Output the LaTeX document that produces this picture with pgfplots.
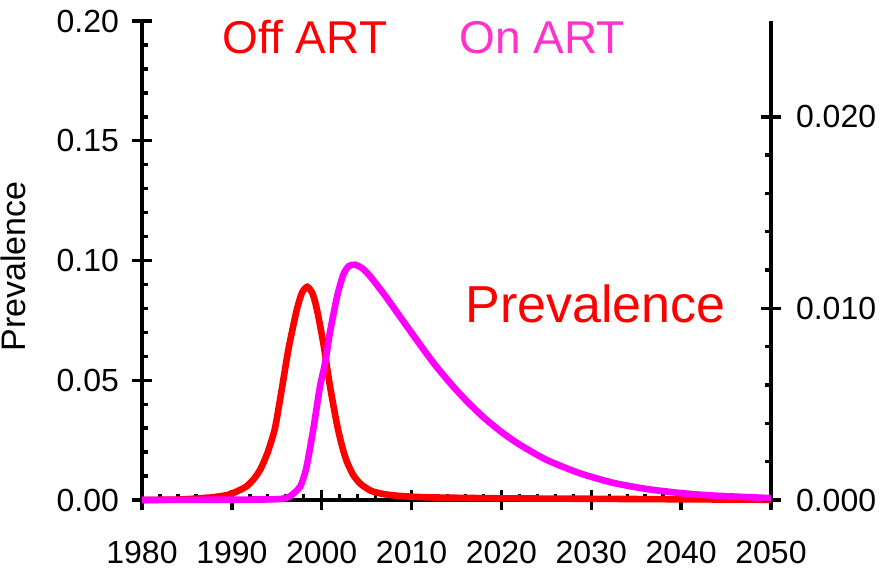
\documentclass[border=0pt]{standalone}
\usepackage{pgfplots}
\pgfplotsset{compat=1.18}
\usepackage{fontspec}
\setmainfont{Liberation Sans}

\definecolor{offred}{RGB}{255,0,0}
\definecolor{onmag}{RGB}{255,0,255}
\definecolor{ontext}{RGB}{255,51,204}

\begin{document}
\begin{tikzpicture}
\pgfplotsset{
  common/.style={
    scale only axis, width=314.5pt, height=239.5pt,
    at={(0,0)}, anchor=south west,
    xmin=1980, xmax=2050,
    clip=false,
    tick align=center,
    major tick length=10pt, minor tick length=3pt,
    tick style={black, line width=1.7pt},
    axis line style={line width=2pt},
    ticklabel style={font=\fontsize{16}{19}\selectfont},
    scaled y ticks=false,
    /pgf/number format/assume math mode=true,
  }
}
\begin{axis}[common,
  axis x line*=bottom, axis y line*=left,
  ymin=0, ymax=0.2,
  xtick={1980,1990,...,2050},
  minor x tick num=4,
  ytick={0,0.05,0.1,0.15,0.2},
  minor y tick num=4,
  every minor y tick/.append style={xshift=1.5pt},
  every minor x tick/.append style={yshift=1.5pt},
  xticklabel style={/pgf/number format/1000 sep={}, yshift=-12pt},
  yticklabel style={/pgf/number format/fixed, /pgf/number format/precision=2, /pgf/number format/fixed zerofill, xshift=-3pt},
]
\addplot[offred, line width=3.3pt, smooth, tension=0.4] coordinates {
(1980,0) (1984,0.0002) (1986,0.0006) (1988,0.0012) (1989.5,0.0021) (1990.5,0.0035)
(1991.6,0.0056) (1992.5,0.009) (1993.2,0.0130) (1994.0,0.020) (1994.8,0.030)
(1995.5,0.045) (1996.3,0.063) (1997.2,0.0790) (1997.8,0.0865) (1998.4,0.0890)
(1999.0,0.0860) (1999.5,0.0790) (2000.2,0.0650) (2000.9,0.0480) (2001.7,0.0315)
(2002.3,0.0220) (2002.8,0.0160) (2003.5,0.0105) (2004.3,0.0068) (2005.5,0.0038)
(2007.0,0.0024) (2009,0.0016) (2012,0.0011) (2020,0.0007) (2030,0.0005)
(2040,0.0003) (2050,0.0001)
};
\node[text=offred, font=\fontsize{23}{27}\selectfont, anchor=base] at (rel axis cs:0.259,0.933) {Off ART};
\node[text=ontext, font=\fontsize{23}{27}\selectfont, anchor=base] at (rel axis cs:0.636,0.933) {On ART};
\node[text=offred, font=\fontsize{26}{31}\selectfont, anchor=base] at (rel axis cs:0.721,0.3706) {Prevalence};
\end{axis}
\begin{axis}[common,
  axis x line=none, axis y line*=right,
  ymin=0, ymax=0.025,
  ytick={0,0.01,0.02},
  minor y tick num=4,
  every minor y tick/.append style={xshift=-1.5pt},
  yticklabel style={/pgf/number format/fixed, /pgf/number format/precision=3, /pgf/number format/fixed zerofill, xshift=4pt},
]
\addplot[onmag, line width=3.3pt, smooth, tension=0.4] coordinates {
(1980,0) (1994,0.00003) (1996,0.0001) (1996.5,0.0002) (1997.6,0.0007) (1998.3,0.0017)
(1999.1,0.0038) (1999.8,0.0059) (2000.4,0.0072) (2000.9,0.0087) (2001.7,0.0106)
(2002.4,0.01176) (2003.0,0.0122) (2003.7,0.01228) (2004.5,0.0121) (2005.4,0.01167)
(2007.0,0.0107) (2008.7,0.00958) (2010.5,0.00840) (2012.4,0.00718) (2014.3,0.00610)
(2016.1,0.00518) (2018.0,0.00432) (2020.0,0.00355) (2022.0,0.00290) (2025.0,0.00210)
(2028.7,0.00140) (2032.4,0.00090) (2036.2,0.00057) (2040,0.00036) (2043.6,0.00023)
(2050,0.00010)
};
\end{axis}
\node[rotate=90, anchor=base, font=\fontsize{17}{20}\selectfont] at (-58.3pt,116.8pt) {Prevalence};
\pgfresetboundingbox
\useasboundingbox (-71pt,-34.5pt) rectangle (371.5pt,250pt);
\end{tikzpicture}
\end{document}
